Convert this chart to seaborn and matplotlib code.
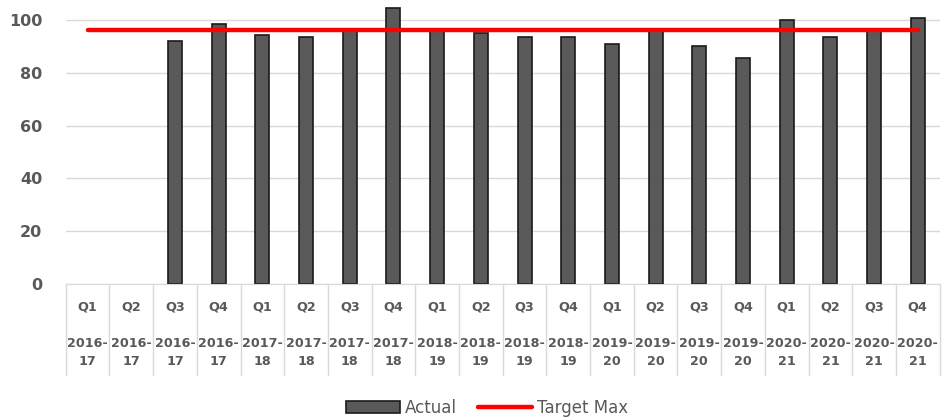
import numpy as np
import pandas as pd
import matplotlib
matplotlib.use('Agg')
import matplotlib.pyplot as plt
import matplotlib.transforms as mtransforms
import seaborn as sns

quarters = ['Q1', 'Q2', 'Q3', 'Q4'] * 5
years = ['2016-17'] * 4 + ['2017-18'] * 4 + ['2018-19'] * 4 + ['2019-20'] * 4 + ['2020-21'] * 4
actual = [np.nan, np.nan, 92.2, 98.6, 94.3, 93.7, 96.5, 104.4, 96.0, 95.2,
          93.7, 93.7, 90.9, 96.3, 90.2, 85.7, 100.0, 93.7, 96.5, 100.8]
target_max = [96.2] * 20

df = pd.DataFrame({'quarter': quarters, 'year': years, 'Actual': actual})
df['period'] = df['quarter'] + ' ' + df['year']

sns.set_style('white')
plt.rcParams['font.family'] = ['DejaVu Sans']
txt = '#595959'

fig = plt.figure(figsize=(9.53, 4.17), dpi=100)
ax = fig.add_axes([0.069, 0.319, 0.917, 0.681])

sns.barplot(data=df, x='period', y='Actual', order=list(df['period']), width=0.32,
            color='#595959', edgecolor='#1a1a1a', linewidth=1.2, saturation=1,
            label='Actual', ax=ax, zorder=2)
sns.lineplot(x=np.arange(len(target_max)), y=target_max, color='#ff0000', linewidth=3.2,
             label='Target Max', ax=ax, zorder=3)

ax.set_xlim(-0.5, len(df) - 0.5)
ax.set_ylim(0, 107.6)
ax.set_yticks(range(0, 101, 20))
ax.yaxis.grid(True, color='#d9d9d9', linewidth=1)
ax.set_axisbelow(True)
for s in ['top', 'right', 'left']:
    ax.spines[s].set_visible(False)
ax.spines['bottom'].set_color('#d9d9d9')
ax.set_xlabel('')
ax.set_ylabel('')

ax.set_xticks(range(len(df)))
ax.set_xticklabels([q + '\n\n' + y.replace('-', '-\n') for q, y in zip(quarters, years)],
                   fontsize=9.2, fontweight='bold', color=txt, linespacing=1.5)
ax.tick_params(axis='x', length=0, pad=12)
ax.tick_params(axis='y', length=0, labelsize=11.5, labelcolor=txt, pad=17)
for lab in ax.get_yticklabels():
    lab.set_fontweight('bold')

# category separators under the axis
trans = mtransforms.blended_transform_factory(ax.transData, ax.transAxes)
for i in range(len(df) + 1):
    ax.plot([i - 0.5, i - 0.5], [0, -0.32], transform=trans, color='#d9d9d9',
            linewidth=1, clip_on=False)

ax.get_legend().remove()
handles, labels = ax.get_legend_handles_labels()
order = [labels.index('Actual'), labels.index('Target Max')]
fig.legend([handles[i] for i in order], [labels[i] for i in order], loc='center',
           bbox_to_anchor=(0.511, 0.022), ncol=2, frameon=False, fontsize=12,
           handlelength=3.2, handletextpad=0.3, columnspacing=1.3, labelcolor=txt)

fig.savefig('out.png', dpi=100)
